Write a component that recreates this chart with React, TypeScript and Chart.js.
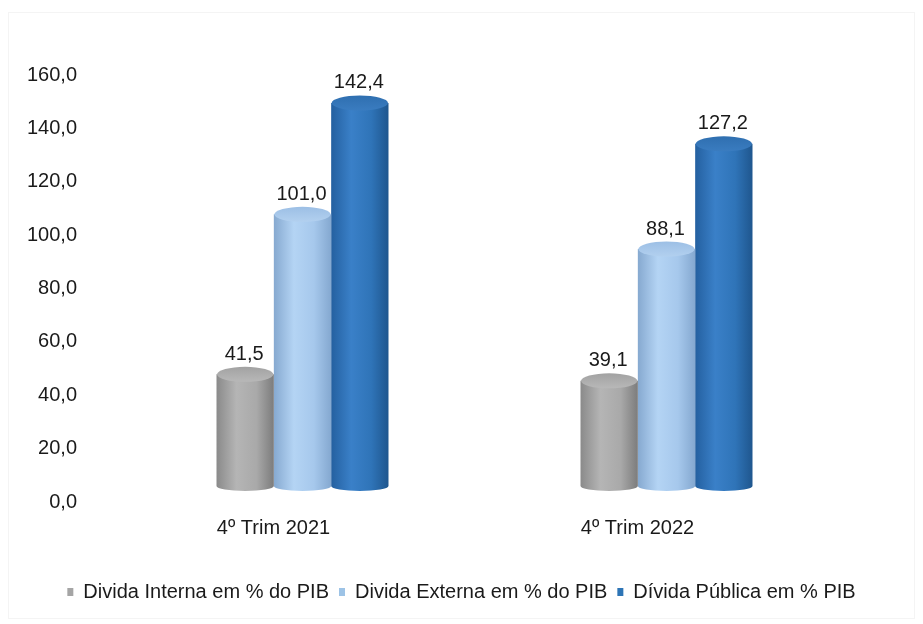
import React, { useEffect, useRef } from "react";
import { Chart, registerables } from "chart.js";

Chart.register(...registerables);

// ---- data ----
const categories = ["4º Trim 2021", "4º Trim 2022"];
const seriesNames = [
  "Divida Interna em % do PIB",
  "Divida Externa em % do PIB",
  "Dívida Pública em % PIB",
];
const dividaInterna = [41.5, 39.1];
const dividaExterna = [101.0, 88.1];
const dividaPublica = [142.4, 127.2];
const yTickMin = 0;
const yTickMax = 160;
const yTickStep = 20;

// ---- style ----
const FONT = "'Liberation Sans', Arial, sans-serif";
const TEXT = "#1a1a1a";
const legendColors = ["#a5a5a5", "#9dc3e6", "#2e75b6"];
const bodyStops: string[][] = [
  ["#8a8a8a", "#b5b5b5", "#a9a9a9", "#7c7c7c"],
  ["#86a9d0", "#b4d4f4", "#a6c8ec", "#84a8d0"],
  ["#2460a0", "#3a80c8", "#2f74b8", "#1f568e"],
];
const topColors = ["#a2a2a2", "#9cbfe5", "#2f6fb0"];
const topRim = ["#b8b8b8", "#b2d0ef", "#3a7cc0"];

const fmt = (v: number) => v.toFixed(1).replace(".", ",");

const cylinderPlugin = {
  id: "cylinders",
  beforeDatasetDraw(chart: any, args: any) {
    const ctx: CanvasRenderingContext2D = chart.ctx;
    const idx = args.index;
    const stops = bodyStops[idx];
    args.meta.data.forEach((el: any) => {
      const { x, y, base, width } = el.getProps(["x", "y", "base", "width"], true);
      const x0 = x - width / 2;
      const x1 = x + width / 2;
      const rx = width / 2;
      const ryT = 7.5;
      const ryB = 5;
      const g = ctx.createLinearGradient(x0, 0, x1, 0);
      g.addColorStop(0, stops[0]);
      g.addColorStop(0.35, stops[1]);
      g.addColorStop(0.7, stops[2]);
      g.addColorStop(1, stops[3]);
      ctx.save();
      ctx.beginPath();
      ctx.moveTo(x0, y);
      ctx.lineTo(x0, base);
      ctx.ellipse(x, base, rx, ryB, 0, Math.PI, 0, true);
      ctx.lineTo(x1, y);
      ctx.closePath();
      ctx.fillStyle = g;
      ctx.fill();
      // top ellipse
      const tg = ctx.createLinearGradient(0, y - ryT, 0, y + ryT);
      tg.addColorStop(0, topColors[idx]);
      tg.addColorStop(1, topRim[idx]);
      ctx.beginPath();
      ctx.ellipse(x, y, rx - 0.5, ryT, 0, 0, Math.PI * 2);
      ctx.fillStyle = tg;
      ctx.fill();
      ctx.restore();
    });
    return false;
  },
  afterDatasetsDraw(chart: any) {
    const ctx: CanvasRenderingContext2D = chart.ctx;
    ctx.save();
    ctx.font = `20px ${FONT}`;
    ctx.fillStyle = TEXT;
    ctx.textAlign = "center";
    ctx.textBaseline = "middle";
    chart.data.datasets.forEach((ds: any, di: number) => {
      const meta = chart.getDatasetMeta(di);
      meta.data.forEach((el: any, i: number) => {
        const { x, y } = el.getProps(["x", "y"], true);
        ctx.fillText(fmt(ds.data[i]), x - 1, y - 20);
      });
    });
    ctx.restore();
  },
};

export default function App() {
  const ref = useRef<HTMLCanvasElement | null>(null);

  useEffect(() => {
    if (!ref.current) return;
    const series = [dividaInterna, dividaExterna, dividaPublica];
    const chart = new Chart(ref.current, {
      type: "bar",
      data: {
        labels: categories,
        datasets: series.map((d, i) => ({
          label: seriesNames[i],
          data: d,
          backgroundColor: legendColors[i],
          borderWidth: 0,
          yAxisID: "yb",
          categoryPercentage: 0.4725,
          barPercentage: 1,
        })),
      },
      options: {
        animation: false,
        responsive: false,
        maintainAspectRatio: false,
        events: [],
        layout: { padding: { left: 0, right: 0, top: 75, bottom: 12 } },
        plugins: {
          tooltip: { enabled: false },
          legend: {
            position: "bottom",
            labels: {
              boxWidth: 6,
              boxHeight: 8,
              padding: 10,
              color: TEXT,
              font: { size: 20, family: FONT },
            },
          },
        },
        scales: {
          x: {
            grid: { display: false, drawTicks: false },
            border: { display: false },
            ticks: {
              color: TEXT,
              font: { size: 20, family: FONT },
              padding: 14,
              labelOffset: -29,
            },
            afterFit: (s: any) => {
              s.height = 70;
            },
          },
          y: {
            position: "left",
            min: yTickMin,
            max: yTickMax,
            grid: { display: false, drawTicks: false },
            border: { display: false },
            ticks: {
              stepSize: yTickStep,
              color: TEXT,
              font: { size: 20, family: FONT },
              padding: 43.5,
              callback: (v: any) => fmt(Number(v)),
            },
            afterFit: (s: any) => {
              s.width = 120.5;
            },
          },
          yr: {
            position: "right",
            min: yTickMin,
            max: yTickMax,
            grid: { display: false, drawTicks: false },
            border: { display: false },
            ticks: { display: false },
            afterFit: (s: any) => {
              s.width = 74.5;
            },
          },
          yb: {
            position: "left",
            display: false,
            min: -5.95,
            max: 152.8,
          },
        },
      } as any,
      plugins: [cylinderPlugin as any],
    });
    return () => chart.destroy();
  }, []);

  return (
    <div style={{ position: "fixed", left: 0, top: 0, width: 923, height: 624, background: "#ffffff" }}>
      <div
        style={{
          position: "absolute",
          left: 8,
          top: 12,
          width: 905,
          height: 605,
          border: "1px solid #f4f4f4",
          pointerEvents: "none",
        }}
      />
      <canvas ref={ref} width={923} height={624} style={{ position: "absolute", left: 0, top: 0 }} />
    </div>
  );
}
